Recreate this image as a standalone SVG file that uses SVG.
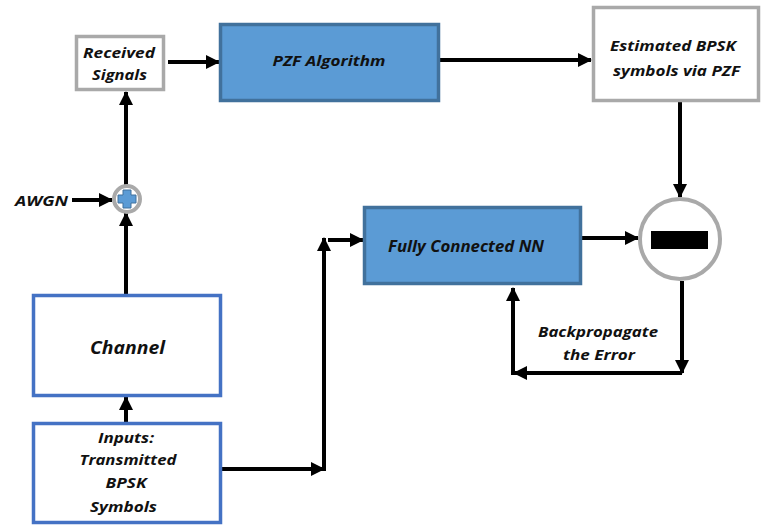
<svg xmlns="http://www.w3.org/2000/svg" width="773" height="527" viewBox="0 0 773 527">
<defs>
<marker id="ah" markerUnits="userSpaceOnUse" markerWidth="14" markerHeight="14" viewBox="0 0 14 14" refX="13" refY="7" orient="auto">
<path d="M0,0 L14,7 L0,14 Z" fill="#000"/>
</marker>
</defs>
<style>
.lbl{font-family:"Open Sans","Liberation Sans",sans-serif;font-weight:bold;font-style:italic;fill:#111;text-anchor:middle;dominant-baseline:central}
.gray{fill:#fff;stroke:#a9a9a9;stroke-width:3.5}
.blue{fill:#5b9bd5;stroke:#41719c;stroke-width:3.5}
.outl{fill:#fff;stroke:#4472c4;stroke-width:3.5}
.arr{fill:none;stroke:#000;stroke-width:4;marker-end:url(#ah)}
</style>
<rect width="773" height="527" fill="#fff"/>
<g id="connectors">
<path class="arr" d="M168,62 H219"/>
<path class="arr" d="M440,60 H591"/>
<path class="arr" d="M680,102 V197"/>
<path class="arr" d="M582,238 H638"/>
<path class="arr" d="M682,281 V373"/>
<path class="arr" d="M682,373 H514"/>
<path class="arr" d="M513,375 V288"/>
<path class="arr" d="M222,469 H324"/>
<path class="arr" d="M324,471 V238"/>
<path class="arr" d="M328,240 H363"/>
<path class="arr" d="M126,422 V397"/>
<path class="arr" d="M126,294 V213"/>
<path class="arr" d="M126,185 V92"/>
<path class="arr" d="M72,200 H112"/>
</g>
<g id="received">
<rect class="gray" x="76.5" y="36.5" width="87" height="53"/>
<text class="lbl" x="119" y="52" font-size="14" textLength="72" lengthAdjust="spacingAndGlyphs">Received</text>
<text class="lbl" x="119.5" y="74" font-size="14" textLength="55" lengthAdjust="spacingAndGlyphs">Signals</text>
</g>
<g id="pzf">
<rect class="blue" x="220.5" y="24.5" width="218" height="76"/>
<text class="lbl" x="329" y="60" font-size="15" textLength="113" lengthAdjust="spacingAndGlyphs">PZF Algorithm</text>
</g>
<g id="estimated">
<rect class="gray" x="593.5" y="7.5" width="165" height="93"/>
<text class="lbl" x="673" y="45" font-size="14.5" textLength="126" lengthAdjust="spacingAndGlyphs">Estimated BPSK</text>
<text class="lbl" x="676.5" y="70" font-size="14.5" textLength="127" lengthAdjust="spacingAndGlyphs">symbols via PZF</text>
</g>
<g id="subtract">
<circle cx="680" cy="239" r="40" fill="#fff" stroke="#a9a9a9" stroke-width="4"/>
<rect x="651" y="231" width="57" height="18" fill="#000"/>
</g>
<g id="fcnn">
<rect class="blue" x="364.5" y="207.5" width="216" height="76"/>
<text class="lbl" x="466" y="246" font-size="15.5" textLength="156" lengthAdjust="spacingAndGlyphs">Fully Connected NN</text>
</g>
<g id="adder">
<circle cx="127" cy="199" r="13" fill="#fff" stroke="#a9a9a9" stroke-width="4"/>
<path d="M123,190 H131 V195 H136 V203 H131 V208 H123 V203 H118 V195 H123 Z" fill="#5b9bd5" stroke="#41719c" stroke-width="1"/>
</g>
<g id="awgn">
<text class="lbl" x="41.5" y="200" font-size="14" textLength="53" lengthAdjust="spacingAndGlyphs">AWGN</text>
</g>
<g id="channel">
<rect class="outl" x="33.5" y="295.5" width="187" height="100"/>
<text class="lbl" x="127.5" y="347" font-size="18" textLength="75" lengthAdjust="spacingAndGlyphs">Channel</text>
</g>
<g id="inputs">
<rect class="outl" x="33.5" y="423.5" width="187" height="99"/>
<text class="lbl" x="126" y="437" font-size="15" textLength="56" lengthAdjust="spacingAndGlyphs">Inputs:</text>
<text class="lbl" x="128" y="459" font-size="15" textLength="97" lengthAdjust="spacingAndGlyphs">Transmitted</text>
<text class="lbl" x="126" y="482" font-size="15" textLength="41" lengthAdjust="spacingAndGlyphs">BPSK</text>
<text class="lbl" x="123.5" y="506" font-size="15" textLength="67" lengthAdjust="spacingAndGlyphs">Symbols</text>
</g>
<g id="backprop">
<text class="lbl" x="598" y="331" font-size="14.5" textLength="120" lengthAdjust="spacingAndGlyphs">Backpropagate</text>
<text class="lbl" x="599" y="354" font-size="14.5" textLength="72" lengthAdjust="spacingAndGlyphs">the Error</text>
</g>
</svg>
